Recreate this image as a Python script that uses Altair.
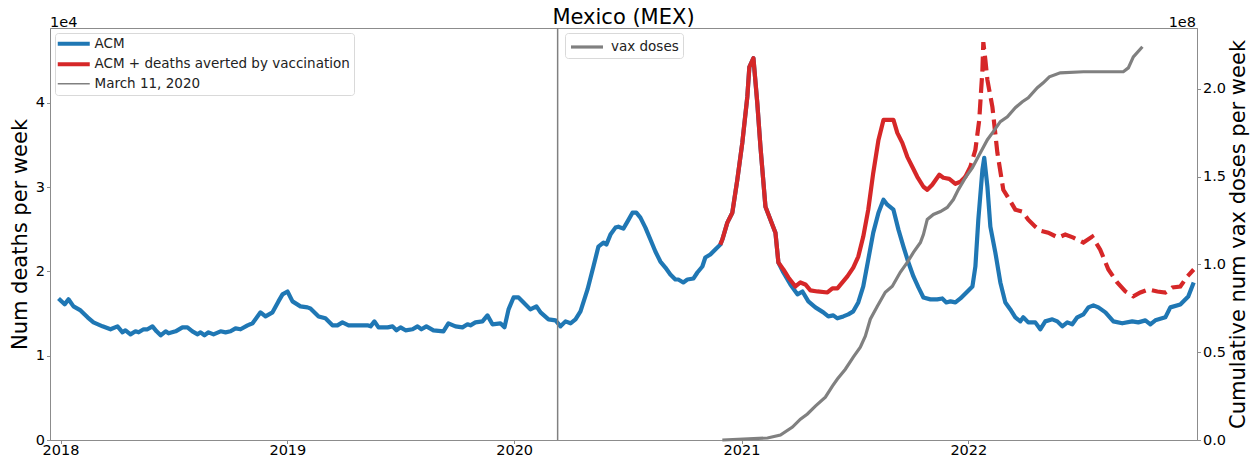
import altair as alt
import pandas as pd

# ---------------- data ----------------
# time in decimal years, values in deaths per week
acm_t = [2017.991, 2018.018, 2018.035, 2018.057, 2018.088, 2018.119, 2018.145, 2018.185, 2018.220, 2018.251,
         2018.273, 2018.286, 2018.308, 2018.330, 2018.344, 2018.366, 2018.383, 2018.405, 2018.423, 2018.441,
         2018.463, 2018.476, 2018.507, 2018.537, 2018.559, 2018.581, 2018.604, 2018.617, 2018.634, 2018.652,
         2018.674, 2018.705, 2018.727, 2018.749, 2018.771, 2018.793, 2018.824, 2018.846, 2018.881, 2018.903,
         2018.934, 2018.960, 2018.978, 2019.000, 2019.022, 2019.057, 2019.088, 2019.101, 2019.137, 2019.167,
         2019.198, 2019.220, 2019.242, 2019.269, 2019.313, 2019.352, 2019.366, 2019.383, 2019.401, 2019.441,
         2019.463, 2019.480, 2019.498, 2019.520, 2019.551, 2019.573, 2019.590, 2019.612, 2019.643, 2019.687,
         2019.709, 2019.740, 2019.771, 2019.793, 2019.806, 2019.828, 2019.859, 2019.881, 2019.903, 2019.938,
         2019.956, 2019.974, 2019.996, 2020.018, 2020.040, 2020.070, 2020.097, 2020.115, 2020.150, 2020.181,
         2020.203, 2020.225, 2020.247, 2020.269, 2020.291, 2020.322, 2020.348, 2020.370, 2020.392, 2020.405,
         2020.423, 2020.445, 2020.458, 2020.480, 2020.498, 2020.520, 2020.537, 2020.555, 2020.577, 2020.599,
         2020.621, 2020.643, 2020.665, 2020.687, 2020.709, 2020.722, 2020.744, 2020.762, 2020.789, 2020.806,
         2020.828, 2020.841, 2020.863, 2020.885, 2020.907, 2020.916, 2020.938, 2020.960, 2020.982, 2021.004,
         2021.026, 2021.035, 2021.053, 2021.070, 2021.084, 2021.106, 2021.128, 2021.150, 2021.163, 2021.185,
         2021.216, 2021.247, 2021.269, 2021.295, 2021.326, 2021.361, 2021.383, 2021.405, 2021.423, 2021.449,
         2021.471, 2021.493, 2021.515, 2021.537, 2021.559, 2021.581, 2021.604, 2021.626, 2021.643, 2021.670,
         2021.692, 2021.714, 2021.736, 2021.758, 2021.780, 2021.802, 2021.833, 2021.863, 2021.885, 2021.903,
         2021.921, 2021.943, 2021.965, 2021.996, 2022.018, 2022.031, 2022.044, 2022.062, 2022.070, 2022.084,
         2022.097, 2022.119, 2022.141, 2022.163, 2022.185, 2022.207, 2022.229, 2022.242, 2022.264, 2022.295,
         2022.317, 2022.339, 2022.370, 2022.392, 2022.414, 2022.436, 2022.458, 2022.480, 2022.507, 2022.529,
         2022.551, 2022.573, 2022.604, 2022.639, 2022.678, 2022.722, 2022.749, 2022.780, 2022.802, 2022.824,
         2022.868, 2022.890, 2022.934, 2022.969, 2022.993]
acm_v = [16800, 16100, 16700, 15860, 15380, 14560, 13960, 13490, 13140, 13490,
         12780, 13020, 12540, 12900, 12780, 13140, 13140, 13490, 12900, 12430,
         12900, 12660, 12900, 13370, 13370, 12900, 12540, 12780, 12430, 12780,
         12540, 12900, 12780, 12900, 13250, 13140, 13610, 13850, 15150, 14670,
         15150, 16450, 17280, 17630, 16450, 15860, 15740, 15620, 14670, 14440,
         13610, 13610, 13960, 13610, 13610, 13610, 13490, 14080, 13370, 13370,
         13490, 13020, 13370, 13020, 13140, 13490, 13140, 13490, 13020, 12900,
         13850, 13490, 13370, 13730, 13610, 13960, 14080, 14790, 13730, 13850,
         13370, 15500, 16920, 16920, 16330, 15500, 15860, 15150, 14320, 14200,
         13490, 14080, 13850, 14320, 15270, 17870, 20590, 22960, 23430, 23190,
         24380, 25210, 25320, 25090, 25920, 26980, 26980, 26390, 25210, 23790,
         22370, 21180, 20470, 19640, 19050, 19050, 18700, 19050, 19170, 19880,
         20590, 21660, 22010, 22600, 23190, 23790, 25800, 26980, 30890, 35270,
         40710, 44260, 45320, 40000, 34790, 27690, 26150, 24610, 21060, 19880,
         18460, 17280, 17630, 16450, 15740, 15150, 14670, 14790, 14440, 14670,
         14910, 15270, 16330, 18220, 21420, 24610, 26980, 28520, 27930, 27340,
         24970, 22960, 21060, 19410, 18110, 16920, 16690, 16690, 16800, 16330,
         16450, 16330, 16800, 17630, 18220, 20590, 26150, 32070, 33490, 30060,
         25320, 22250, 18700, 16330, 15500, 14560, 14080, 14560, 13960, 13960,
         13140, 14080, 14320, 14080, 13490, 13960, 13730, 14560, 14910, 15740,
         15980, 15740, 15150, 14080, 13850, 14080, 13960, 14200, 13730, 14200,
         14560, 15740, 16090, 17040, 18700]

# ACM + deaths averted by vaccination
avert_t = [2020.907, 2020.916, 2020.938, 2020.960, 2020.982, 2021.004, 2021.026, 2021.035, 2021.053, 2021.070,
           2021.084, 2021.106, 2021.128, 2021.150, 2021.163, 2021.185, 2021.207, 2021.238, 2021.260, 2021.282,
           2021.304, 2021.335, 2021.379, 2021.401, 2021.423, 2021.445, 2021.467, 2021.493, 2021.515, 2021.537,
           2021.559, 2021.581, 2021.604, 2021.626, 2021.648, 2021.670, 2021.687, 2021.709, 2021.731, 2021.753,
           2021.775, 2021.802, 2021.819, 2021.841, 2021.872, 2021.890, 2021.916, 2021.943, 2021.965, 2021.987,
           2022.009, 2022.031, 2022.048, 2022.062, 2022.066, 2022.075, 2022.084, 2022.106, 2022.128, 2022.154,
           2022.176, 2022.207, 2022.238, 2022.264, 2022.295, 2022.317, 2022.352, 2022.396, 2022.427, 2022.463,
           2022.507, 2022.546, 2022.581, 2022.617, 2022.656, 2022.692, 2022.727, 2022.758, 2022.793, 2022.833,
           2022.868, 2022.899, 2022.934, 2022.965, 2022.993]
avert_v = [23190, 23790, 25800, 26980, 30890, 35270, 40710, 44260, 45320, 40000,
           34790, 27690, 26150, 24610, 21060, 20240, 19290, 18220, 18700, 18460,
           17750, 17630, 17510, 17990, 17990, 18700, 19410, 20470, 21770, 24140,
           27340, 31710, 35620, 37990, 37990, 37990, 36450, 35270, 33610, 32430,
           31240, 30060, 29700, 30300, 31480, 31120, 31000, 30410, 30650, 31240,
           32430, 34440, 37990, 43900, 47220, 45090, 42720, 39530, 34080, 29700,
           28760, 27340, 27100, 26150, 25320, 24850, 24610, 24020, 24380, 24020,
           23430, 24140, 22600, 20240, 18700, 17630, 17040, 17510, 17870, 17630,
           17510, 18110, 18220, 19410, 20240]
dashed_from = 2021.987  # projection part of the averted series is dashed

# cumulative vaccine doses
vax_t = [2020.916, 2021.115, 2021.172, 2021.225, 2021.260, 2021.291, 2021.326, 2021.370, 2021.401, 2021.423,
         2021.458, 2021.493, 2021.524, 2021.546, 2021.568, 2021.599, 2021.634, 2021.665, 2021.700, 2021.731,
         2021.758, 2021.789, 2021.802, 2021.819, 2021.846, 2021.877, 2021.907, 2021.934, 2021.956, 2021.987,
         2022.018, 2022.053, 2022.084, 2022.110, 2022.141, 2022.172, 2022.207, 2022.238, 2022.264, 2022.304,
         2022.330, 2022.357, 2022.405, 2022.507, 2022.683, 2022.705, 2022.727, 2022.767]
vax_v = [0.0, 1.14e6, 2.84e6, 7.39e6, 11.9e6, 14.8e6, 19.3e6, 24.4e6, 30.7e6, 34.7e6,
         40.3e6, 47.2e6, 52.8e6, 59.1e6, 68.8e6, 76.1e6, 84.1e6, 87.5e6, 95.5e6, 101.1e6,
         106.8e6, 112.5e6, 117.0e6, 125.6e6, 128.4e6, 130.1e6, 132.4e6, 136.9e6, 142.6e6, 149.4e6,
         155.1e6, 163.6e6, 171.0e6, 175.6e6, 181.3e6, 184.1e6, 189.2e6, 192.6e6, 194.9e6, 200.6e6,
         203.4e6, 206.8e6, 209.1e6, 209.7e6, 209.7e6, 211.9e6, 218.2e6, 223.9e6]

who_date = "2020-03-11"

series_names = ["ACM", "ACM + deaths averted by vaccination", "March 11, 2020"]
series_colors = ["#1f77b4", "#d62728", "#808080"]
year_ticks = [2018, 2019, 2020, 2021, 2022]
left_ticks = [0, 10000, 20000, 30000, 40000]
right_ticks = [0, 5e7, 1e8, 1.5e8, 2e8]
title_text = "Mexico (MEX)"


def to_dates(ts):
    base = pd.Timestamp("2018-01-01")
    return [base + pd.Timedelta(days=(t - 2018) * 365.25) for t in ts]


acm_df = pd.DataFrame({"date": to_dates(acm_t), "value": acm_v, "series": "ACM"})
av_df = pd.DataFrame({"t": avert_t, "date": to_dates(avert_t), "value": avert_v,
                      "series": "ACM + deaths averted by vaccination"})
av_solid = av_df[av_df["t"] <= dashed_from].drop(columns="t")
av_dash = av_df[av_df["t"] >= dashed_from].drop(columns="t")
rule_df = pd.DataFrame({"date": [pd.Timestamp(who_date)], "series": ["March 11, 2020"]})
vax_df = pd.DataFrame({"date": to_dates(vax_t), "value": vax_v, "series": "vax doses"})

FONT = "DejaVu Sans"
AX = "#8c8c8c"
W, H = 1147, 412
LINE_SYMBOL = "M-1,0H3"   # a horizontal legend handle

x_enc = alt.X(
    "date:T",
    scale=alt.Scale(domain=[alt.DateTime(year=2017, month=12, date=15),
                            alt.DateTime(year=2023, month=1, date=4)]),
    axis=alt.Axis(title=None, values=[alt.DateTime(year=y, month=1, date=1) for y in year_ticks],
                  format="%Y", labelFontSize=14.5, labelPadding=0, tickSize=3.5, grid=False,
                  labelColor="black", domainColor=AX, tickColor=AX),
)

y_left = alt.Y(
    "value:Q",
    scale=alt.Scale(domain=[0, 48900], nice=False, zero=True),
    axis=alt.Axis(title="Num deaths per week", orient="left", values=left_ticks,
                  labelExpr="datum.value / 10000", labelFontSize=14.5, titleFontSize=21,
                  titleFontWeight="normal", titleColor="black", labelColor="black",
                  titlePadding=5, labelPadding=2, tickSize=3.5, grid=False,
                  domainColor=AX, tickColor=AX),
)

leg1 = alt.Legend(title=None, orient="none", legendX=5, legendY=5, symbolType=LINE_SYMBOL,
                  symbolSize=256,
                  symbolStrokeWidth={"expr": "datum.value === 'March 11, 2020' ? 1.5 : 4.2"},
                  labelFontSize=13.5, labelFont=FONT, labelColor="#222", labelLimit=0,
                  fillColor="white", strokeColor="#d9d9d9", padding=4, cornerRadius=3,
                  rowPadding=2.5, labelOffset=22)

color_enc = alt.Color("series:N", scale=alt.Scale(domain=series_names, range=series_colors), legend=leg1)

acm_line = alt.Chart(acm_df).mark_line(strokeWidth=4.2, strokeJoin="round").encode(
    x=x_enc, y=y_left, color=color_enc)
av_line = alt.Chart(av_solid).mark_line(strokeWidth=4.2, strokeJoin="round").encode(
    x=x_enc, y=y_left, color=color_enc)
av_dash_line = alt.Chart(av_dash).mark_line(strokeWidth=4.2, strokeDash=[15, 6.5]).encode(
    x=x_enc, y=y_left, color=color_enc)
who_rule = alt.Chart(rule_df).mark_rule(strokeWidth=1.5).encode(x=x_enc, color=color_enc)

left = alt.layer(acm_line, av_line, av_dash_line, who_rule)

leg2 = alt.Legend(title=None, orient="none", legendX=515, legendY=5, symbolType=LINE_SYMBOL,
                  symbolSize=256, symbolStrokeWidth=3.2, labelFontSize=13.5, labelFont=FONT,
                  labelColor="#222", labelLimit=0, fillColor="white", strokeColor="#d9d9d9",
                  padding=4, cornerRadius=3, labelOffset=22)

vax_line = alt.Chart(vax_df).mark_line(strokeWidth=3.2).encode(
    x=x_enc,
    y=alt.Y("value:Q",
            scale=alt.Scale(domain=[0, 2.346e8], nice=False, zero=True),
            axis=alt.Axis(title="Cumulative num vax doses per week", orient="right",
                          values=right_ticks, labelExpr="format(datum.value / 1e8, '.1f')",
                          labelFontSize=14.5, titleFontSize=21, titleFontWeight="normal",
                          titleAngle=270, titleBaseline="top",
                          titleColor="black", labelColor="black", titlePadding=2,
                          labelPadding=2, tickSize=3.5, grid=False,
                          domainColor=AX, tickColor=AX)),
    color=alt.Color("series:N", scale=alt.Scale(domain=["vax doses"], range=["#808080"]), legend=leg2),
)

label_data = alt.Data(values=[{"t": "1e4", "r": "1e8", "title": title_text}])
exp_left = alt.Chart(label_data).mark_text(
    align="left", baseline="alphabetic", fontSize=14.5, font=FONT, color="black"
).encode(text="t:N", x=alt.value(0), y=alt.value(-1.5))
exp_right = alt.Chart(label_data).mark_text(
    align="right", baseline="alphabetic", fontSize=14.5, font=FONT, color="black"
).encode(text="r:N", x=alt.value(W - 1), y=alt.value(-1.5))
title_mark = alt.Chart(label_data).mark_text(
    align="center", baseline="alphabetic", fontSize=21, font=FONT, color="black"
).encode(text="title:N", x=alt.value(W / 2), y=alt.value(-4))

chart = alt.layer(left, vax_line, exp_left, exp_right, title_mark).resolve_scale(
    y="independent", color="independent"
).properties(
    width=W, height=H,
    autosize=alt.AutoSizeParams(type="none"),
    padding={"left": 42, "top": 20, "right": 54, "bottom": 17},
).configure(font=FONT).configure_view(stroke=AX, strokeWidth=1)

chart.save("out.html", embed_options={"renderer": "svg", "actions": False})
